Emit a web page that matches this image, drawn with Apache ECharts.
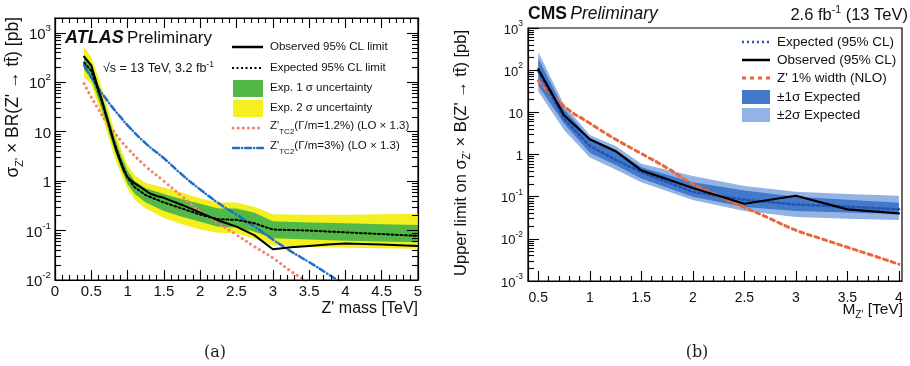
<!DOCTYPE html>
<html>
<head>
<meta charset="utf-8">
<script src="https://cdn.jsdelivr.net/npm/echarts@6.0.0/dist/echarts.min.js"></script>
<style>
html, body { margin: 0; padding: 0; background: #fff; }
#chart { width: 910px; height: 366px; }
</style>
</head>
<body>
<div id="chart"></div>
<script>
// (a) ATLAS limits
var massObsA = [0.4,0.45,0.5,0.55,0.6,0.65,0.7,0.75,0.8,0.85,0.9,0.95,1.0,1.1,1.2,1.3,1.4,1.5,1.75,2.0,2.25,2.5,2.75,3.0,3.25,3.5,3.75,4.0,4.5,5.0];
var obsA     = [330,270,220,125,68,42,23,13,7,3.9,2.5,1.6,1.2,0.9,0.72,0.57,0.5,0.46,0.33,0.23,0.16,0.12,0.08,0.042,0.046,0.049,0.052,0.055,0.052,0.049];

var massExpA = [0.4,0.5,0.6,0.7,0.8,0.9,1.0,1.1,1.25,1.5,1.75,2.0,2.25,2.5,2.75,3.0,3.5,4.0,4.5,5.0];
var expA     = [250,170,65,22,7,2.7,1.15,0.75,0.52,0.37,0.28,0.21,0.17,0.165,0.14,0.105,0.1,0.092,0.085,0.078];
var g1UpA    = [360,230,88,30,9.5,3.6,1.6,1.0,0.72,0.55,0.43,0.35,0.28,0.28,0.23,0.155,0.145,0.14,0.135,0.13];
var g1DnA    = [180,120,45,16,5.2,2.0,0.88,0.55,0.37,0.25,0.19,0.15,0.12,0.115,0.095,0.07,0.066,0.062,0.06,0.058];
var y2UpA    = [520,320,125,42,13,4.8,2.1,1.3,0.92,0.74,0.58,0.45,0.37,0.37,0.3,0.215,0.21,0.21,0.215,0.22];
var y2DnA    = [130,90,33,12,3.8,1.5,0.7,0.42,0.28,0.18,0.135,0.105,0.09,0.088,0.068,0.05,0.047,0.045,0.044,0.043];

var massRedA = [0.4,0.5,0.6,0.7,0.8,0.9,1.0,1.25,1.5,1.75,2.0,2.25,2.5,2.75,3.0,3.25,3.5];
var redA     = [94,50,28,16.5,10.6,6.8,4.6,2.0,1.0,0.49,0.245,0.14,0.082,0.047,0.028,0.015,0.0088];
var massBlueA = [0.4,0.5,0.6,0.7,0.8,0.9,1.0,1.25,1.5,1.75,2.0,2.25,2.5,2.75,3.0,3.25,3.5,3.75,4.0];
var blueA     = [220,125,75,47,30,20,13.5,5.8,2.9,1.35,0.68,0.36,0.21,0.12,0.066,0.038,0.023,0.0135,0.0078];

// (b) CMS limits
var massB   = [0.5,0.75,1.0,1.25,1.5,2.0,2.5,3.0,3.5,4.0];
var obsB    = [105,8.5,2.3,1.2,0.42,0.16,0.068,0.105,0.05,0.04];
var expB    = [95,7,1.6,0.75,0.38,0.13,0.085,0.065,0.058,0.05];
var sig1UpB = [190,11.8,2.4,1.3,0.5,0.22,0.14,0.1,0.085,0.072];
var sig1DnB = [43,5.4,1.1,0.56,0.27,0.1,0.057,0.046,0.042,0.039];
var sig2UpB = [270,15,2.9,1.6,0.6,0.31,0.18,0.13,0.115,0.105];
var sig2DnB = [31,3.8,0.85,0.44,0.22,0.083,0.046,0.033,0.03,0.028];
var massRedB = [0.5,0.75,1.0,1.25,1.5,1.75,2.0,2.25,2.5,2.75,3.0,3.25,3.5,3.75,4.0];
var redB     = [56,14,5.5,2.3,1.05,0.48,0.2,0.105,0.056,0.03,0.016,0.01,0.0063,0.004,0.0025];

// tick labels
var ticksBx = [0.5,1,1.5,2,2.5,3,3.5,4];
var yMaxA = 2000, yMinA = 0.01;
var yMaxB = 1000, yMinB = 0.001;

var FONT = 'Liberation Sans';

function powLabel(v) {
    var e = Math.log10(v);
    if (Math.abs(e - Math.round(e)) > 1e-6) return '';
    e = Math.round(e);
    if (e === 0) return '{b|1}';
    if (e === 1) return '{b|10}';
    return '{b|10}{s|' + e + '}';
}
function powRich(size) {
    return {
        b: { fontSize: size, fontFamily: FONT, color: '#111', lineHeight: size + 4, verticalAlign: 'bottom' },
        s: { fontSize: size * 0.65, fontFamily: FONT, color: '#111', lineHeight: size * 0.7, verticalAlign: 'top' }
    };
}

function band(xs, lo, hi, color, xi, yi) {
    return {
        type: 'custom', xAxisIndex: xi, yAxisIndex: yi, clip: true, silent: true, z: 1,
        data: xs.map(function (x, i) { return [x, lo[i], hi[i]]; }),
        encode: { x: 0, y: [1, 2] },
        renderItem: function (params, api) {
            if (params.dataIndex !== 0) return null;
            var pts = [];
            for (var i = 0; i < xs.length; i++) pts.push(api.coord([xs[i], hi[i]]));
            for (var j = xs.length - 1; j >= 0; j--) pts.push(api.coord([xs[j], lo[j]]));
            return { type: 'polygon', shape: { points: pts }, style: { fill: color } };
        }
    };
}
function curve(xs, ys, color, width, dash, xi, yi, smooth) {
    return {
        type: 'line', xAxisIndex: xi, yAxisIndex: yi, silent: true, z: 3,
        data: xs.map(function (x, i) { return [x, ys[i]]; }),
        showSymbol: false, symbol: 'none', smooth: smooth || false,
        lineStyle: { color: color, width: width, type: dash, cap: 'round', join: 'round' }
    };
}

var axLine = { show: true, onZero: false, lineStyle: { color: '#000', width: 1.2 } };
var tickStyle = { color: '#000', width: 1.1 };
var noLabel = { show: false };

var chart = echarts.init(document.getElementById('chart'), null, { renderer: 'canvas' });

var option = {
    backgroundColor: '#fff',
    animation: false,
    grid: [
        { left: 55, top: 18, width: 363, height: 262, show: true, borderColor: '#000', borderWidth: 1.2, backgroundColor: 'transparent' },
        { left: 528, top: 28, width: 374, height: 253, show: true, borderColor: '#000', borderWidth: 1.2, backgroundColor: 'transparent' }
    ],
    xAxis: [
        { gridIndex: 0, type: 'value', min: 0, max: 5, interval: 0.5, position: 'bottom', z: 5,
          axisLine: axLine, splitLine: { show: false },
          axisTick: { inside: true, length: 10, lineStyle: tickStyle },
          minorTick: { show: true, splitNumber: 5, length: 5, lineStyle: tickStyle },
          axisLabel: { fontSize: 15, fontFamily: FONT, color: '#111', margin: 4 } },
        { gridIndex: 0, type: 'value', min: 0, max: 5, interval: 0.5, position: 'top', z: 5,
          axisLine: axLine, splitLine: { show: false }, axisLabel: noLabel,
          axisTick: { inside: true, length: 10, lineStyle: tickStyle },
          minorTick: { show: true, splitNumber: 5, length: 5, lineStyle: tickStyle } },
        { gridIndex: 1, type: 'value', min: 0.4, max: 4.03, splitNumber: 7, minInterval: 0.5, maxInterval: 0.5,
          position: 'bottom', z: 5, axisLine: axLine, splitLine: { show: false },
          axisTick: { inside: true, length: 10, lineStyle: tickStyle, customValues: ticksBx },
          minorTick: { show: true, splitNumber: 5, length: 5, lineStyle: tickStyle },
          axisLabel: { fontSize: 14, fontFamily: FONT, color: '#111', margin: 10, customValues: ticksBx } }
    ],
    yAxis: [
        { gridIndex: 0, type: 'log', logBase: 10, min: yMinA, max: yMaxA, position: 'left', z: 5,
          axisLine: axLine, splitLine: { show: false },
          axisTick: { inside: true, length: 11, lineStyle: tickStyle },
          minorTick: { show: true, splitNumber: 9, length: 6, lineStyle: tickStyle },
          axisLabel: { formatter: powLabel, rich: powRich(15), margin: 4 } },
        { gridIndex: 0, type: 'log', logBase: 10, min: yMinA, max: yMaxA, position: 'right', z: 5,
          axisLine: axLine, splitLine: { show: false }, axisLabel: noLabel,
          axisTick: { inside: true, length: 11, lineStyle: tickStyle },
          minorTick: { show: true, splitNumber: 9, length: 6, lineStyle: tickStyle } },
        { gridIndex: 1, type: 'log', logBase: 10, min: yMinB, max: yMaxB, position: 'left', z: 5,
          axisLine: axLine, splitLine: { show: false },
          axisTick: { inside: true, length: 11, lineStyle: tickStyle },
          minorTick: { show: true, splitNumber: 9, length: 6, lineStyle: tickStyle },
          axisLabel: { formatter: powLabel, rich: powRich(13), margin: 5 } }
    ],
    series: [
        // (a)
        band(massExpA, y2DnA, y2UpA, '#f4ef1e', 0, 0),
        band(massExpA, g1DnA, g1UpA, '#52b848', 0, 0),
        curve(massRedA, redA, '#f3846b', 3, [0.1, 5], 0, 0, true),
        curve(massBlueA, blueA, '#1f6fc5', 2.5, [6, 3, 0.1, 3], 0, 0, true),
        curve(massExpA, expA, '#000', 2, [2, 2.5], 0, 0),
        curve(massObsA, obsA, '#000', 2, 'solid', 0, 0),
        // (b)
        band(massB, sig2DnB, sig2UpB, '#94b3e5', 2, 2),
        band(massB, sig1DnB, sig1UpB, '#4279c8', 2, 2),
        curve(massRedB, redB, '#e8673f', 3, [4, 4], 2, 2, true),
        curve(massB, expB, '#2352b8', 2.5, [2, 3], 2, 2),
        curve(massB, obsB, '#000', 2.2, 'solid', 2, 2)
    ],
    graphic: [
        // (a) labels
        { type: 'text', x: 65, y: 38, style: { text: '{a|ATLAS} {p|Preliminary}', verticalAlign: 'middle',
            rich: { a: { fontSize: 18, fontWeight: 'bold', fontStyle: 'italic', fontFamily: FONT, fill: '#111' },
                    p: { fontSize: 17, fontFamily: FONT, fill: '#111' } } } },
        { type: 'text', x: 103, y: 68, style: { text: '{n|√s = 13 TeV, 3.2 fb}{s|-1}', verticalAlign: 'middle',
            rich: { n: { fontSize: 12.5, fontFamily: FONT, fill: '#111', lineHeight: 15, verticalAlign: 'bottom' },
                    s: { fontSize: 8.5, fontFamily: FONT, fill: '#111', lineHeight: 9, verticalAlign: 'top' } } } },
        // (a) legend
        { type: 'line', shape: { x1: 232, y1: 47, x2: 263, y2: 47 }, style: { stroke: '#000', lineWidth: 2.5 } },
        { type: 'line', shape: { x1: 232, y1: 68, x2: 263, y2: 68 }, style: { stroke: '#000', lineWidth: 2.2, lineDash: [2, 2.5] } },
        { type: 'rect', shape: { x: 233, y: 80, width: 30, height: 17 }, style: { fill: '#52b848' } },
        { type: 'rect', shape: { x: 233, y: 100, width: 30, height: 17 }, style: { fill: '#f4ef1e' } },
        { type: 'line', shape: { x1: 233, y1: 128, x2: 263, y2: 128 }, style: { stroke: '#f3846b', lineWidth: 3, lineDash: [0.1, 5], lineCap: 'round' } },
        { type: 'line', shape: { x1: 233, y1: 148, x2: 263, y2: 148 }, style: { stroke: '#1f6fc5', lineWidth: 2.5, lineDash: [6, 3, 0.1, 3], lineCap: 'round' } },
        { type: 'text', x: 270, y: 47, style: { text: 'Observed 95% CL limit', fontSize: 11.5, fontFamily: FONT, fill: '#111', verticalAlign: 'middle' } },
        { type: 'text', x: 270, y: 68, style: { text: 'Expected 95% CL limit', fontSize: 11.5, fontFamily: FONT, fill: '#111', verticalAlign: 'middle' } },
        { type: 'text', x: 270, y: 88, style: { text: 'Exp. 1 σ uncertainty', fontSize: 11.5, fontFamily: FONT, fill: '#111', verticalAlign: 'middle' } },
        { type: 'text', x: 270, y: 108, style: { text: 'Exp. 2 σ uncertainty', fontSize: 11.5, fontFamily: FONT, fill: '#111', verticalAlign: 'middle' } },
        { type: 'text', x: 270, y: 128, style: { text: "{n|Z'}{s|TC2}{n|(Γ/m=1.2%) (LO × 1.3)}", verticalAlign: 'middle',
            rich: { n: { fontSize: 11.5, fontFamily: FONT, fill: '#111', lineHeight: 16, verticalAlign: 'top' },
                    s: { fontSize: 8, fontFamily: FONT, fill: '#111', lineHeight: 8, verticalAlign: 'bottom' } } } },
        { type: 'text', x: 270, y: 148, style: { text: "{n|Z'}{s|TC2}{n|(Γ/m=3%) (LO × 1.3)}", verticalAlign: 'middle',
            rich: { n: { fontSize: 11.5, fontFamily: FONT, fill: '#111', lineHeight: 16, verticalAlign: 'top' },
                    s: { fontSize: 8, fontFamily: FONT, fill: '#111', lineHeight: 8, verticalAlign: 'bottom' } } } },
        // (a) axis titles
        { type: 'text', x: 15, y: 17, rotation: Math.PI / 2, style: {
            text: "{n|σ}{s|Z'}{n| × BR(Z' → tt̄) [pb]}", align: 'right', verticalAlign: 'middle',
            rich: { n: { fontSize: 17.5, fontFamily: FONT, fill: '#111', lineHeight: 21, verticalAlign: 'top' },
                    s: { fontSize: 11, fontFamily: FONT, fill: '#111', lineHeight: 11, verticalAlign: 'bottom' } } } },
        { type: 'text', x: 418, y: 309, style: { text: "Z' mass [TeV]", fontSize: 16, fontFamily: FONT, fill: '#111', align: 'right', verticalAlign: 'middle' } },
        { type: 'text', x: 215, y: 353, style: { text: '(a)', fontSize: 16, fontFamily: 'DejaVu Serif', fill: '#222', align: 'center', verticalAlign: 'middle' } },

        // (b) labels
        { type: 'text', x: 528, y: 14, style: { text: '{a|CMS} {p|Preliminary}', verticalAlign: 'middle',
            rich: { a: { fontSize: 17.5, fontWeight: 'bold', fontFamily: FONT, fill: '#111' },
                    p: { fontSize: 17.5, fontStyle: 'italic', fontFamily: FONT, fill: '#111' } } } },
        { type: 'text', x: 908, y: 14, style: { text: '{n|2.6 fb}{s|-1}{n| (13 TeV)}', align: 'right', verticalAlign: 'middle',
            rich: { n: { fontSize: 16.5, fontFamily: FONT, fill: '#111', lineHeight: 19, verticalAlign: 'bottom' },
                    s: { fontSize: 10.5, fontFamily: FONT, fill: '#111', lineHeight: 10, verticalAlign: 'top' } } } },
        // (b) legend
        { type: 'line', shape: { x1: 742, y1: 42, x2: 770, y2: 42 }, style: { stroke: '#2352b8', lineWidth: 2.5, lineDash: [2, 3] } },
        { type: 'line', shape: { x1: 742, y1: 60, x2: 770, y2: 60 }, style: { stroke: '#000', lineWidth: 2.5 } },
        { type: 'line', shape: { x1: 742, y1: 78, x2: 770, y2: 78 }, style: { stroke: '#e8673f', lineWidth: 3, lineDash: [4, 4] } },
        { type: 'rect', shape: { x: 742, y: 90, width: 28, height: 14 }, style: { fill: '#4279c8' } },
        { type: 'rect', shape: { x: 742, y: 108, width: 28, height: 14 }, style: { fill: '#94b3e5' } },
        { type: 'text', x: 777, y: 42, style: { text: 'Expected (95% CL)', fontSize: 13.5, fontFamily: FONT, fill: '#111', verticalAlign: 'middle' } },
        { type: 'text', x: 777, y: 60, style: { text: 'Observed (95% CL)', fontSize: 13.5, fontFamily: FONT, fill: '#111', verticalAlign: 'middle' } },
        { type: 'text', x: 777, y: 78, style: { text: "Z' 1% width (NLO)", fontSize: 13.5, fontFamily: FONT, fill: '#111', verticalAlign: 'middle' } },
        { type: 'text', x: 777, y: 97, style: { text: '±1σ Expected', fontSize: 13.5, fontFamily: FONT, fill: '#111', verticalAlign: 'middle' } },
        { type: 'text', x: 777, y: 115, style: { text: '±2σ Expected', fontSize: 13.5, fontFamily: FONT, fill: '#111', verticalAlign: 'middle' } },
        // (b) axis titles
        { type: 'text', x: 463, y: 30, rotation: Math.PI / 2, style: {
            text: "{n|Upper limit on σ}{s|Z'}{n| × B(Z' → tt̄) [pb]}", align: 'right', verticalAlign: 'middle',
            rich: { n: { fontSize: 16.5, fontFamily: FONT, fill: '#111', lineHeight: 20, verticalAlign: 'top' },
                    s: { fontSize: 10.5, fontFamily: FONT, fill: '#111', lineHeight: 10, verticalAlign: 'bottom' } } } },
        { type: 'text', x: 903, y: 311, style: { text: "{n|M}{s|Z'}{n| [TeV]}", align: 'right', verticalAlign: 'middle',
            rich: { n: { fontSize: 15.5, fontFamily: FONT, fill: '#111', lineHeight: 19, verticalAlign: 'top' },
                    s: { fontSize: 10, fontFamily: FONT, fill: '#111', lineHeight: 10, verticalAlign: 'bottom' } } } },
        { type: 'text', x: 697, y: 353, style: { text: '(b)', fontSize: 16, fontFamily: 'DejaVu Serif', fill: '#222', align: 'center', verticalAlign: 'middle' } }
    ]
};
chart.setOption(option);
</script>
</body>
</html>
